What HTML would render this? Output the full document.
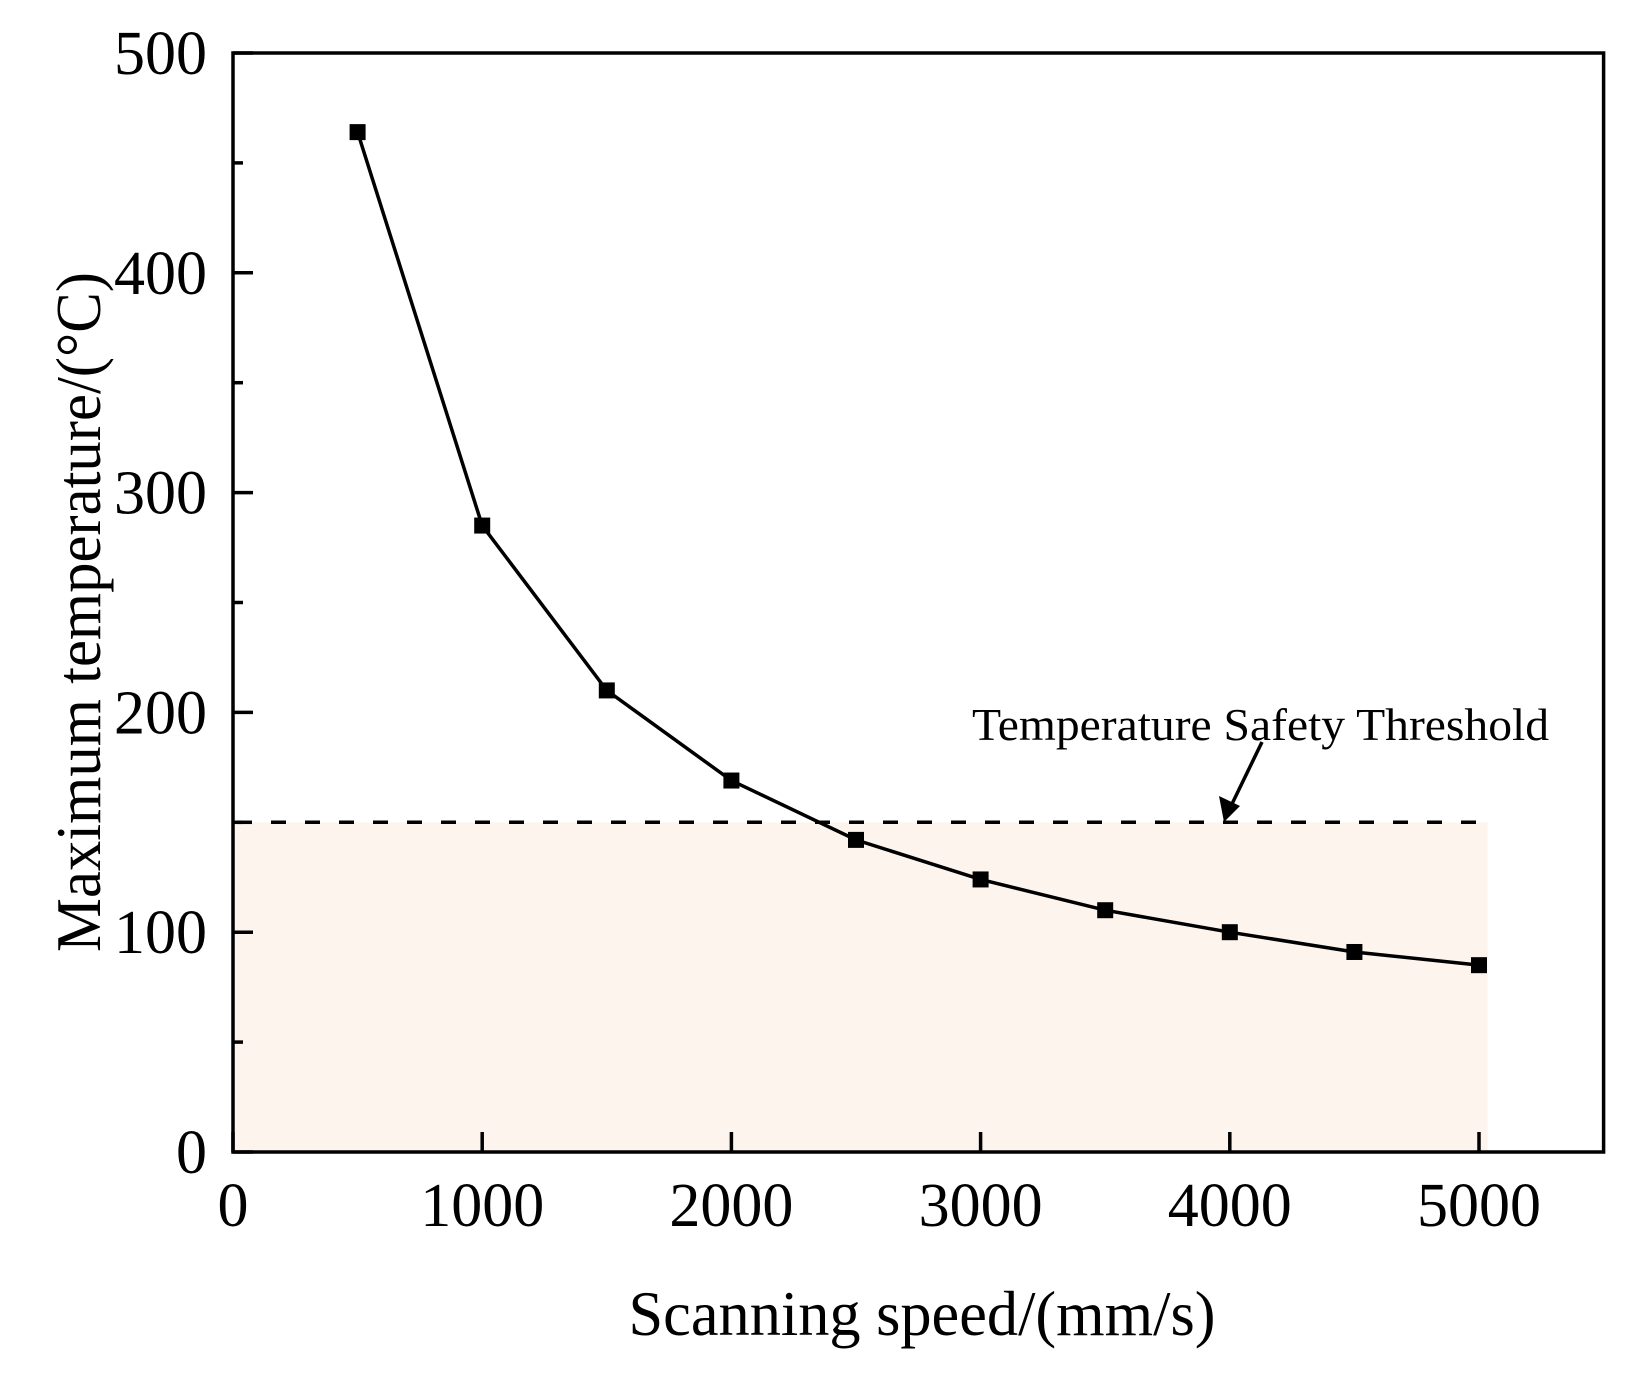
<!DOCTYPE html>
<html><head><meta charset="utf-8"><style>
html,body{margin:0;padding:0;background:#fff;}
svg{display:block;font-family:"Liberation Serif",serif;}
</style></head><body>
<svg id="chart" width="1650" height="1375" viewBox="0 0 1650 1375" xmlns="http://www.w3.org/2000/svg">
<g id="plot"></g>
</svg>
<script>
const speeds = [500,1000,1500,2000,2500,3000,3500,4000,4500,5000];
const temps = [464,285,210,169,142,124,110,100,91,85];
const xTicks = [0,1000,2000,3000,4000,5000];
const yTicks = [0,100,200,300,400,500];
const threshold = 150;
const shadeEnd = 5035;

const X0=233, XPX=0.24920, YB=1152, YPX=2.198;
const xs = v => X0 + v*XPX;
const ys = v => YB - v*YPX;
const NS='http://www.w3.org/2000/svg';
const g=document.getElementById('plot');
function mk(tag, attrs, parent){const e=document.createElementNS(NS,tag);for(const k in attrs)e.setAttribute(k,attrs[k]);(parent||g).appendChild(e);return e;}

let e;
e=mk('rect',{x:xs(0),y:ys(threshold),width:xs(shadeEnd)-xs(0),height:ys(0)-ys(threshold),fill:'#fdf4ee'});



e=mk('line',{x1:xs(0)+4,x2:xs(shadeEnd),y1:ys(threshold),y2:ys(threshold),stroke:'#000','stroke-width':3.5,'stroke-dasharray':'15 19'});



e=mk('rect',{x:xs(0),y:ys(500),width:xs(5500)-xs(0),height:ys(0)-ys(500),fill:'none',stroke:'#000','stroke-width':3.5});



yTicks.forEach(v=>{
  let t=mk('line',{x1:xs(0),x2:xs(0)+20,y1:ys(v),y2:ys(v),stroke:'#000','stroke-width':3.5});
  
  
  if(v<500){let m=mk('line',{x1:xs(0),x2:xs(0)+10,y1:ys(v+50),y2:ys(v+50),stroke:'#000','stroke-width':3.5});
  
  }
  let l=mk('text',{x:207,y:ys(v)+21,'font-size':62,'text-anchor':'end'});
  l.textContent=v;
  
  
});
xTicks.forEach(v=>{
  let t=mk('line',{x1:xs(v),x2:xs(v),y1:ys(0),y2:ys(0)-20,stroke:'#000','stroke-width':3.5});
  
  
  let l=mk('text',{x:xs(v),y:1226,'font-size':62,'text-anchor':'middle'});
  l.textContent=v;
  
  
});

e=mk('polyline',{points:speeds.map((s,i)=>xs(s)+','+ys(temps[i])).join(' '),fill:'none',stroke:'#000','stroke-width':3.5});


speeds.forEach((s,i)=>{
  let m=mk('rect',{x:xs(s)-8,y:ys(temps[i])-8,width:16,height:16,fill:'#000'});
  
  
});

e=mk('text',{x:972,y:740,'font-size':46,textLength:577,lengthAdjust:'spacingAndGlyphs'});
e.textContent='Temperature Safety Threshold';


e=mk('line',{x1:1262,y1:742,x2:1231,y2:806,stroke:'#000','stroke-width':3.5});


e=mk('polygon',{points:'1224,822 1219,796 1240,806',fill:'#000'});



e=mk('text',{x:922,y:1335,'font-size':64,'text-anchor':'middle',textLength:587,lengthAdjust:'spacingAndGlyphs'});
e.textContent='Scanning speed/(mm/s)';


e=mk('text',{x:0,y:0,'font-size':64,'text-anchor':'middle',textLength:680,lengthAdjust:'spacingAndGlyphs',transform:'translate(100,612) rotate(-90)'});
e.textContent='Maximum temperature/(°C)';


</script>
</body></html>
